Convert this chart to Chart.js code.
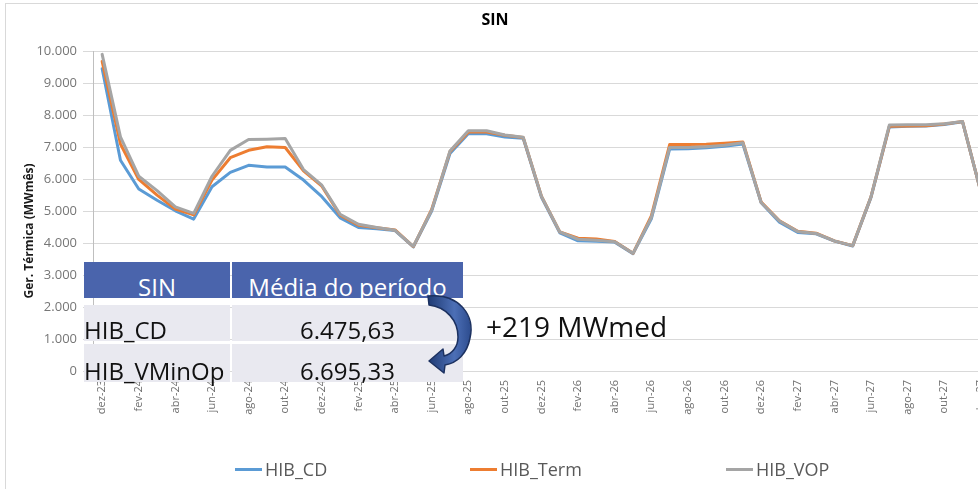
<!DOCTYPE html>
<html>
<head>
<meta charset="utf-8">
<script src="https://cdn.jsdelivr.net/npm/chart.js@4.4.1/dist/chart.umd.min.js"></script>
<style>
  html, body { margin: 0; padding: 0; background: #fff; overflow: hidden; width: 978px; height: 489px; }
  body { position: relative; font-family: "Open Sans", sans-serif; }
  #frame { position: absolute; left: 5px; top: 3px; width: 1200px; height: 600px; border: 1px solid #d9d9d9; }
  #chart { position: absolute; left: 0; top: 0; }
  .cell { position: absolute; overflow: hidden; font-size: 24px; line-height: 24px; white-space: nowrap; }
  .cell span { position: absolute; top: 0; }
  .legend-item { position: absolute; top: 460px; font-size: 18px; line-height: 18px; color: #595959; white-space: nowrap; }
  .legend-line { position: absolute; top: 8px; width: 27px; height: 3px; }
  #delta { position: absolute; left: 486px; top: 312px; font-size: 28px; line-height: 28px; color: #111; white-space: nowrap; }
  #arrow { position: absolute; left: 0; top: 0; pointer-events: none; }
</style>
</head>
<body>
<div id="frame"></div>
<canvas id="chart" width="990" height="489"></canvas>
<div id="table"></div>
<div id="legend"></div>
<div id="delta"></div>
<svg id="arrow" width="978" height="489">
  <defs>
    <linearGradient id="ag" x1="428" y1="0" x2="472" y2="0" gradientUnits="userSpaceOnUse">
      <stop offset="0" stop-color="#1f3a73"/>
      <stop offset="0.6" stop-color="#4c6fb6"/>
      <stop offset="1" stop-color="#2b4a8c"/>
    </linearGradient>
  </defs>
  <path d="M 428 296 C 460 293, 475 316, 470 338 C 467 354, 457 363, 445 365 L 444 373 L 429 361 L 443 349 L 444 356 C 452 354, 458 347, 458 337 C 458 320, 446 307, 429 305 Z"
        fill="url(#ag)" stroke="#1c3160" stroke-width="1.5" stroke-linejoin="round"/>
</svg>
<script>
const months = [
  'dez-23', 'jan-24', 'fev-24', 'mar-24', 'abr-24', 'mai-24', 'jun-24', 'jul-24', 'ago-24', 'set-24', 'out-24', 'nov-24',
  'dez-24', 'jan-25', 'fev-25', 'mar-25', 'abr-25', 'mai-25', 'jun-25', 'jul-25', 'ago-25', 'set-25', 'out-25', 'nov-25',
  'dez-25', 'jan-26', 'fev-26', 'mar-26', 'abr-26', 'mai-26', 'jun-26', 'jul-26', 'ago-26', 'set-26', 'out-26', 'nov-26',
  'dez-26', 'jan-27', 'fev-27', 'mar-27', 'abr-27', 'mai-27', 'jun-27', 'jul-27', 'ago-27', 'set-27', 'out-27', 'nov-27',
  'dez-27',
];

const hibCD = [
  9450, 6590, 5690, 5340, 5010, 4750, 5760, 6210, 6430, 6380, 6380, 5970,
  5450, 4790, 4490, 4450, 4390, 3880, 5000, 6800, 7420, 7420, 7320, 7280,
  5430, 4320, 4070, 4060, 4030, 3670, 4760, 6940, 6950, 6980, 7030, 7100,
  5260, 4650, 4330, 4290, 4060, 3910, 5430, 7630, 7650, 7660, 7710, 7790,
  5600,
];

const hibTerm = [
  9680, 7100, 5990, 5500, 5060, 4880, 5970, 6670, 6900, 7010, 6990, 6260,
  5780, 4870, 4560, 4480, 4410, 3890, 5050, 6860, 7470, 7470, 7370, 7300,
  5460, 4350, 4150, 4130, 4050, 3680, 4850, 7080, 7080, 7090, 7120, 7160,
  5280, 4700, 4370, 4310, 4070, 3920, 5450, 7650, 7660, 7670, 7720, 7800,
  5600,
];

const hibVOP = [
  9900, 7320, 6090, 5640, 5130, 4930, 6090, 6900, 7240, 7250, 7270, 6300,
  5810, 4900, 4590, 4490, 4400, 3900, 5030, 6880, 7510, 7510, 7380, 7310,
  5460, 4350, 4120, 4090, 4040, 3680, 4800, 6990, 6990, 7010, 7060, 7140,
  5270, 4690, 4360, 4300, 4070, 3920, 5450, 7690, 7700, 7700, 7730, 7800,
  5600,
];

const seriesNames = ['HIB_CD', 'HIB_Term', 'HIB_VOP'];
const seriesColors = ['#5b9bd5', '#ed7d31', '#a5a5a5'];
const legendX = [235, 470, 726];

const tableHeader = ['SIN', 'Média do período'];
const tableRows = [
  ['HIB_CD', '6.475,63'],
  ['HIB_VMinOp', '6.695,33'],
];
const deltaText = '+219 MWmed';

const chartTitle = 'SIN';
const yTitle = 'Ger. Térmica (MWmês)';

const fmt = (v) => v.toString().replace(/\B(?=(\d{3})+(?!\d))/g, '.');

// y axis title is drawn off-centre in the original, so place it by hand
const yTitlePlugin = {
  id: 'yTitle',
  afterDraw(chart) {
    const ctx = chart.ctx;
    ctx.save();
    ctx.translate(30, 231);
    ctx.rotate(-Math.PI / 2);
    ctx.font = 'bold 12px "Open Sans"';
    ctx.fillStyle = '#1a1a1a';
    ctx.textAlign = 'center';
    ctx.textBaseline = 'middle';
    ctx.fillText(yTitle, 0, 0);
    ctx.restore();
  },
};

Chart.defaults.font.family = '"Open Sans", sans-serif';

const allSeries = [hibCD, hibTerm, hibVOP];

new Chart(document.getElementById('chart'), {
  type: 'line',
  data: {
    labels: months,
    datasets: allSeries.map((data, i) => ({
      label: seriesNames[i],
      data: data,
      borderColor: seriesColors[i],
      backgroundColor: seriesColors[i],
      borderWidth: 3,
      pointRadius: 0,
      tension: 0,
      borderJoinStyle: 'round',
      borderCapStyle: 'round',
      order: 3 - i,
    })),
  },
  options: {
    responsive: false,
    animation: false,
    layout: { padding: 0 },
    plugins: {
      legend: { display: false },
      tooltip: { enabled: false },
      title: {
        display: true,
        text: chartTitle,
        color: '#000',
        font: { size: 16, weight: 'bold' },
        padding: { top: 11, bottom: 21 },
      },
    },
    scales: {
      x: {
        offset: true,
        grid: { display: false, drawTicks: false },
        border: { color: '#d9d9d9' },
        ticks: {
          autoSkip: false,
          maxRotation: 90,
          minRotation: 90,
          padding: 9,
          color: '#6f6f6f',
          font: { size: 11 },
          callback: function (val, idx) {
            return idx % 2 === 0 ? this.getLabelForValue(val) : '';
          },
        },
        afterFit: (s) => {
          s.height = 118;
          s.paddingLeft = 0;
          s.paddingRight = 0;
        },
      },
      y: {
        min: 0,
        max: 10000,
        grid: { color: '#d9d9d9', tickLength: 10 },
        border: { color: '#bfbfbf' },
        ticks: {
          stepSize: 1000,
          padding: 6,
          color: '#767676',
          font: { size: 13 },
          callback: (v) => fmt(v),
        },
        afterFit: (s) => {
          s.width = 93;
        },
      },
    },
  },
  plugins: [yTitlePlugin],
});

// legend
const legend = document.getElementById('legend');
seriesNames.forEach((name, i) => {
  const item = document.createElement('div');
  item.className = 'legend-item';
  item.style.left = legendX[i] + 'px';
  item.innerHTML = '<div class="legend-line" style="left:0;background:' + seriesColors[i] + '"></div>' +
    '<span style="position:absolute;left:30px;top:0">' + name + '</span>';
  legend.appendChild(item);
});

// table overlay
const cols = [{ left: 84, width: 146 }, { left: 232, width: 231 }];
const rowsPos = [{ top: 262, height: 36, textTop: 12.6 }, { top: 305, height: 36, textTop: 12.6 }, { top: 344, height: 38, textTop: 14.6 }];
const table = document.getElementById('table');
const allRows = [tableHeader].concat(tableRows);
allRows.forEach((row, r) => {
  row.forEach((txt, c) => {
    const cell = document.createElement('div');
    cell.className = 'cell';
    const p = rowsPos[r];
    cell.style.left = cols[c].left + 'px';
    cell.style.width = cols[c].width + 'px';
    cell.style.top = p.top + 'px';
    cell.style.height = p.height + 'px';
    cell.style.background = r === 0 ? '#4a64ac' : '#e9e9f0';
    cell.style.color = r === 0 ? '#fff' : '#111';
    if (r > 0) cell.style.overflow = 'visible';
    const span = document.createElement('span');
    span.textContent = txt;
    span.style.top = p.textTop + 'px';
    if (r === 0 || c === 1) {
      span.style.left = '0';
      span.style.width = '100%';
      span.style.textAlign = 'center';
    } else {
      span.style.left = '0';
    }
    cell.appendChild(span);
    table.appendChild(cell);
  });
});

document.getElementById('delta').textContent = deltaText;
</script>
</body>
</html>
